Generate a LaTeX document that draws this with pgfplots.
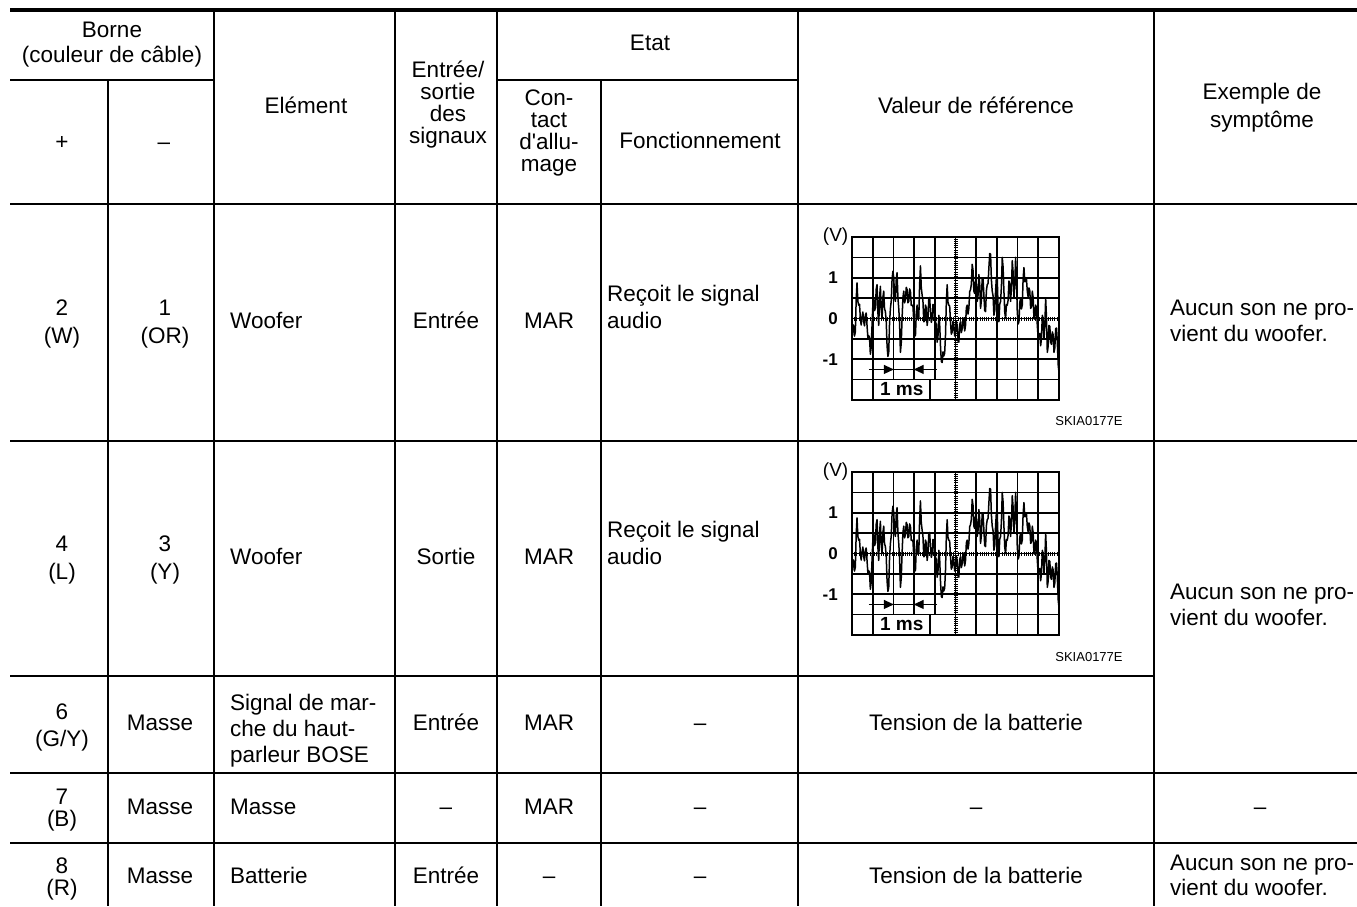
\documentclass[border=0pt]{standalone}
\usepackage{fontspec}
\setmainfont{Liberation Sans}
\usepackage{pgfplots}
\pgfplotsset{compat=1.18}
\usepackage{pgfplotstable}
\usetikzlibrary{arrows.meta}

\pgfplotstableread{
x y
0.000 -0.50
0.040 -0.155
0.081 -0.17
0.121 -0.43
0.161 -0.33
0.201 0.45
0.242 0.875
0.282 0.42
0.323 0.33
0.363 0.35
0.403 0.00
0.443 -0.16
0.484 0.04
0.524 0.16
0.565 -0.08
0.605 -0.18
0.645 0.08
0.685 0.135
0.726 -0.17
0.766 -0.475
0.806 -0.42
0.846 -0.47
0.887 -0.875
0.927 -0.70
0.968 -0.17
1.008 0.345
1.048 0.50
1.088 0.195
1.129 0.25
1.169 0.72
1.210 0.83
1.250 0.15
1.290 -0.17
1.330 0.49
1.371 0.79
1.411 0.215
1.452 0.00
1.492 0.515
1.532 0.67
1.572 0.24
1.613 0.17
1.653 -0.07
1.694 -0.67
1.734 -0.93
1.774 -0.83
1.814 -0.11
1.855 0.25
1.895 0.425
1.935 0.96
1.976 1.16
2.016 1.00
2.056 0.53
2.097 0.42
2.137 0.95
2.177 1.125
2.218 0.51
2.258 0.25
2.298 -0.11
2.339 -0.83
2.379 -0.595
2.419 0.00
2.460 0.515
2.500 0.67
2.540 0.385
2.581 0.46
2.621 0.765
2.661 0.71
2.702 0.385
2.742 0.42
2.782 0.725
2.823 0.67
2.863 0.32
2.903 0.33
2.944 0.305
2.984 -0.08
3.024 -0.43
3.065 -0.42
3.105 0.135
3.145 0.33
3.185 -0.015
3.226 0.00
3.266 0.825
3.306 1.29
3.347 0.755
3.387 0.58
3.427 0.43
3.468 -0.08
3.508 -0.055
3.548 0.33
3.589 0.26
3.629 -0.17
3.669 -0.015
3.710 0.50
3.750 0.515
3.790 0.17
3.831 -0.095
3.871 0.00
3.911 0.345
3.952 0.33
3.992 -0.055
4.032 -0.08
4.073 -0.15
4.113 -0.58
4.153 -0.43
4.194 0.08
4.234 -0.115
4.274 -0.67
4.315 -1.055
4.355 -1.08
4.395 -0.82
4.435 -0.92
4.476 -0.85
4.516 -0.42
4.556 0.385
4.597 0.83
4.637 0.40
4.677 0.33
4.718 0.305
4.758 -0.08
4.798 -0.385
4.839 -0.33
4.879 -0.07
4.919 -0.17
4.960 -0.43
5.000 -0.33
5.040 -0.07
5.081 -0.17
5.121 -0.555
5.161 -0.58
5.202 -0.15
5.242 -0.08
5.282 -0.345
5.323 -0.25
5.363 0.015
5.403 -0.08
5.444 -0.305
5.484 -0.17
5.524 0.26
5.565 0.33
5.605 0.11
5.645 0.25
5.686 0.66
5.726 0.71
5.766 0.84
5.806 1.33
5.847 1.18
5.887 0.67
5.927 0.615
5.968 0.92
6.008 0.85
6.048 0.42
6.089 0.57
6.129 1.08
6.169 0.845
6.210 0.25
6.250 0.445
6.290 1.00
6.331 0.97
6.371 0.58
6.411 0.195
6.452 0.17
6.492 0.68
6.532 0.83
6.573 0.86
6.613 1.25
6.653 1.595
6.694 1.58
6.734 0.945
6.774 0.67
6.815 0.555
6.855 0.08
6.895 0.195
6.935 0.67
6.976 1.015
7.016 1.00
7.056 0.28
7.097 -0.08
7.137 0.35
7.177 0.42
7.218 0.78
7.258 1.50
7.298 1.265
7.339 0.67
7.379 0.155
7.419 0.00
7.460 0.345
7.500 0.33
7.540 0.445
7.581 0.92
7.621 0.85
7.661 0.42
7.702 0.74
7.742 1.42
7.782 1.14
7.823 0.50
7.863 0.82
7.903 1.50
7.944 1.015
7.984 0.17
8.024 -0.135
8.065 -0.08
8.105 0.39
8.145 0.50
8.185 0.235
8.226 0.33
8.266 0.97
8.306 1.25
8.347 0.905
8.387 0.92
8.427 0.975
8.468 0.67
8.508 0.53
8.548 0.75
8.589 0.68
8.629 0.25
8.669 0.28
8.710 0.67
8.750 0.515
8.790 0.00
8.831 -0.015
8.871 0.33
8.911 0.26
8.952 -0.17
8.992 -0.475
9.032 -0.42
9.073 -0.365
9.113 -0.67
9.153 -0.475
9.194 0.08
9.234 -0.03
9.274 -0.50
9.315 -0.18
9.355 0.50
9.395 0.015
9.435 -0.83
9.476 -0.68
9.516 -0.17
9.556 -0.195
9.597 -0.58
9.637 -0.635
9.677 -0.33
9.718 -0.40
9.758 -0.83
9.798 -0.72
9.839 -0.25
9.879 -0.235
9.919 -0.58
9.960 -1.135
10.000 -1.33
}\wave

\newcommand{\tc}[3]{\node[anchor=base,inner sep=0pt] at (#1,#2) {#3};}
\newcommand{\tl}[3]{\node[anchor=base west,inner sep=0pt] at (#1,#2) {#3};}

\pgfplotsset{scope/.style={
  anchor=south west, scale only axis, width=207pt, height=163pt,
  xmin=0, xmax=10, ymin=-2, ymax=2,
  xtick={1,2,3,4,6,7,8,9}, ytick={-1.5,-1,-0.5,0.5,1,1.5},
  xticklabels={}, yticklabels={}, major tick length=0pt,
  grid=major, grid style={black, line width=1.7pt},
  axis line style={black, line width=2.5pt},
  clip=false}}

\newcommand{\scopeextras}{%
  \draw[black, line width=0.8pt] (axis cs:5,-2) -- (axis cs:5,2);
  \draw[black, line width=4pt, dash pattern=on 0.8pt off 1.4pt] (axis cs:5,-2) -- (axis cs:5,2);
  \draw[black, line width=0.8pt] (axis cs:0,0) -- (axis cs:10,0);
  \draw[black, line width=4pt, dash pattern=on 0.8pt off 1.4pt] (axis cs:0,0) -- (axis cs:10,0);
  \addplot[black, line width=1.5pt, line join=round] table[x=x, y=y] {\wave};
  \fill[white] ([xshift=0.8pt,yshift=1.2pt]axis cs:1,-2) rectangle ([xshift=0.9pt,yshift=-0.8pt]axis cs:4,-1.5);
  \draw[black, line width=1.7pt] (axis cs:3.77,-2) -- (axis cs:3.77,-1.5);
  \node[anchor=base, inner sep=0pt, font=\bfseries\fontsize{19}{19}\selectfont] at (axis cs:2.40,-1.89) {1 ms};
  \draw[black, line width=1.2pt] (axis cs:0.81,-1.25) -- (axis cs:4.11,-1.25);
  \draw[black, line width=1.2pt, -{Triangle[length=10pt,width=9pt]}] (axis cs:0.81,-1.25) -- (axis cs:2.02,-1.25);
  \draw[black, line width=1.2pt, -{Triangle[length=10pt,width=9pt]}] (axis cs:4.11,-1.25) -- (axis cs:2.98,-1.25);
  \node[anchor=east, inner sep=0pt, font=\bfseries\fontsize{17}{17}\selectfont] at (axis cs:-0.68,1) {1};
  \node[anchor=east, inner sep=0pt, font=\bfseries\fontsize{17}{17}\selectfont] at (axis cs:-0.68,0) {0};
  \node[anchor=east, inner sep=0pt, font=\bfseries\fontsize{17}{17}\selectfont] at (axis cs:-0.68,-1) {-1};
  \node[anchor=east, inner sep=0pt, font=\fontsize{19}{19}\selectfont] at (axis cs:-0.17,2) {(V)};
}

\begin{document}
\begin{tikzpicture}
\begin{scope}[x=1pt,y=-1pt, every node/.style={font=\fontsize{22.5}{22.5}\selectfont, text=black}]
\path[use as bounding box] (0,0) rectangle (1357,906);
% rules
\draw[line width=4pt] (10,10.3) -- (1357,10.3);
\draw[line width=2pt] (10,80) -- (214,80);
\draw[line width=2pt] (497,80) -- (798,80);
\draw[line width=2.7pt] (10,204) -- (1357,204);
\draw[line width=1.3pt] (10,441) -- (1357,441);
\draw[line width=1.3pt] (10,676) -- (1154,676);
\draw[line width=1.3pt] (10,773) -- (1357,773);
\draw[line width=1.3pt] (10,843) -- (1357,843);
\draw[line width=1.3pt] (108,80) -- (108,906);
\draw[line width=1.3pt] (214,12) -- (214,906);
\draw[line width=1.3pt] (395,12) -- (395,906);
\draw[line width=1.3pt] (497,12) -- (497,906);
\draw[line width=1.3pt] (601,80) -- (601,906);
\draw[line width=1.3pt] (798,12) -- (798,906);
\draw[line width=1.3pt] (1154,12) -- (1154,906);
% header
\tc{112}{37}{Borne}
\tc{112}{62}{(couleur de câble)}
\tc{62}{149}{+}
\tc{164}{149}{–}
\tc{306}{113}{Elément}
\tc{448}{77}{Entrée/}
\tc{448}{99}{sortie}
\tc{448}{121}{des}
\tc{448}{143}{signaux}
\tc{650}{50}{Etat}
\tc{549}{105}{Con-}
\tc{549}{127}{tact}
\tc{549}{149}{d\textquotesingle allu-}
\tc{549}{171}{mage}
\tc{700}{148}{Fonctionnement}
\tc{976}{113}{Valeur de référence}
\tc{1262}{99}{Exemple de}
\tc{1262}{127}{symptôme}
% row 1
\tc{62}{315}{2}
\tc{62}{343}{(W)}
\tc{165}{315}{1}
\tc{165}{343}{(OR)}
\tl{230}{328}{Woofer}
\tc{446}{328}{Entrée}
\tc{549}{328}{MAR}
\tl{607}{301}{Reçoit le signal}
\tl{607}{328}{audio}
\tl{1170}{315}{Aucun son ne pro-}
\tl{1170}{341}{vient du woofer.}
\node[anchor=base,inner sep=0pt,font=\fontsize{13}{13}\selectfont] at (1089,425) {SKIA0177E};
% row 2
\tc{62}{551}{4}
\tc{62}{579}{(L)}
\tc{165}{551}{3}
\tc{165}{579}{(Y)}
\tl{230}{564}{Woofer}
\tc{446}{564}{Sortie}
\tc{549}{564}{MAR}
\tl{607}{537}{Reçoit le signal}
\tl{607}{564}{audio}
\node[anchor=base,inner sep=0pt,font=\fontsize{13}{13}\selectfont] at (1089,661) {SKIA0177E};
\tl{1170}{599}{Aucun son ne pro-}
\tl{1170}{625}{vient du woofer.}
% row 3
\tc{62}{719}{6}
\tc{62}{746}{(G/Y)}
\tc{160}{730}{Masse}
\tl{230}{710}{Signal de mar-}
\tl{230}{736}{che du haut-}
\tl{230}{762}{parleur BOSE}
\tc{446}{730}{Entrée}
\tc{549}{730}{MAR}
\tc{700}{730}{–}
\tc{976}{730}{Tension de la batterie}
% row 4
\tc{62}{804}{7}
\tc{62}{826}{(B)}
\tc{160}{814}{Masse}
\tl{230}{814}{Masse}
\tc{446}{814}{–}
\tc{549}{814}{MAR}
\tc{700}{814}{–}
\tc{976}{814}{–}
\tc{1260}{814}{–}
% row 5
\tc{62}{873}{8}
\tc{62}{895}{(R)}
\tc{160}{883}{Masse}
\tl{230}{883}{Batterie}
\tc{446}{883}{Entrée}
\tc{549}{883}{–}
\tc{700}{883}{–}
\tc{976}{883}{Tension de la batterie}
\tl{1170}{870}{Aucun son ne pro-}
\tl{1170}{895}{vient du woofer.}
\end{scope}

\begin{axis}[scope, at={(852pt,-400pt)}]
\scopeextras
\end{axis}
\begin{axis}[scope, at={(852pt,-635pt)}]
\scopeextras
\end{axis}
\end{tikzpicture}
\end{document}
